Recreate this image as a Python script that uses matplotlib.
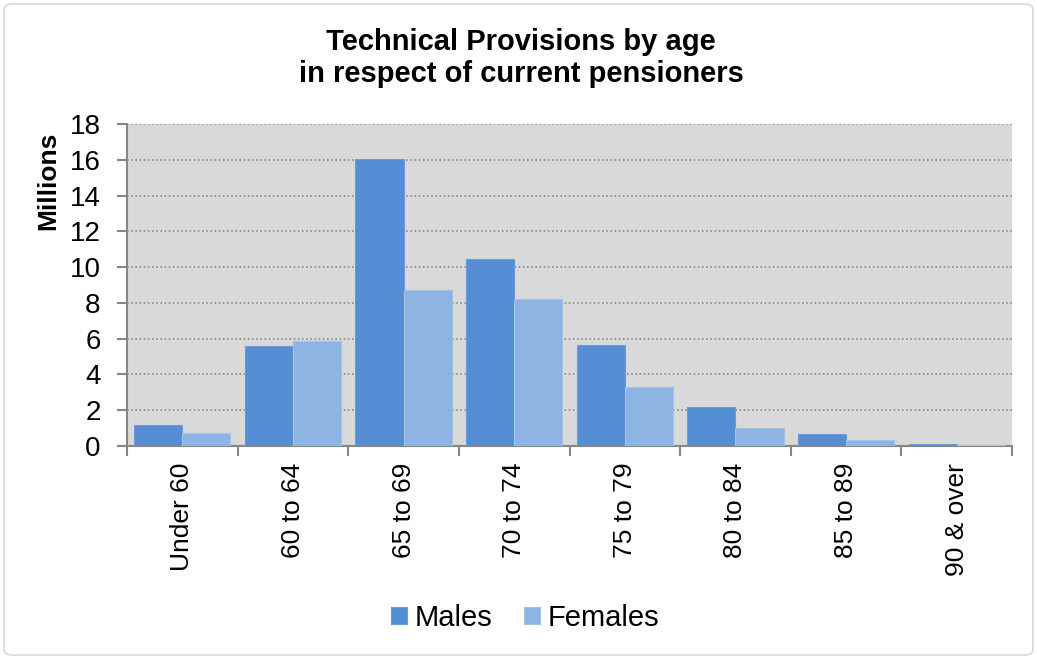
import matplotlib
matplotlib.use("Agg")
import matplotlib.pyplot as plt
import numpy as np
from matplotlib.patches import FancyBboxPatch

categories = ["Under 60", "60 to 64", "65 to 69", "70 to 74", "75 to 79",
              "80 to 84", "85 to 89", "90 & over"]
males = [1.17, 5.57, 16.03, 10.43, 5.64, 2.16, 0.67, 0.11]
females = [0.73, 5.88, 8.70, 8.23, 3.31, 1.02, 0.34, 0.05]
yticks = [0, 2, 4, 6, 8, 10, 12, 14, 16, 18]

plt.rcParams['font.family'] = ['Liberation Sans', 'DejaVu Sans']

fig = plt.figure(figsize=(10.37, 6.59), dpi=100)
fig.patch.set_facecolor('white')
border = FancyBboxPatch((0.004, 0.006), 0.992, 0.988,
                        boxstyle="round,pad=0,rounding_size=0.008",
                        transform=fig.transFigure, facecolor='white',
                        edgecolor='#D9D9D9', linewidth=1.2, zorder=-10)
fig.patches.append(border)

ax = fig.add_axes([127 / 1037, 1 - 446 / 659, (1012 - 127) / 1037, (446 - 124) / 659])
ax.set_facecolor('#D9D9D9')

x = np.arange(len(categories))
w = 0.435
ax.bar(x - w / 2, males, width=w, color='#558ED5', edgecolor='#6A9CDB',
       linewidth=0.8, label='Males', zorder=3)
ax.bar(x + w / 2, females, width=w, color='#8EB4E3', edgecolor='#A3C2E8',
       linewidth=0.8, label='Females', zorder=3)

ax.set_xlim(-0.5, len(categories) - 0.5)
ax.set_ylim(0, 18)
ax.set_yticks(yticks)
ax.set_yticklabels([str(v) for v in yticks], fontsize=20)
ax.yaxis.grid(True, linestyle=(0, (1, 1.5)), color='#8C8C8C', linewidth=1.2, zorder=1)
ax.set_axisbelow(True)

ax.set_xticks(x)
ax.set_xticklabels(categories, rotation=90, fontsize=19, va='top')
ax.tick_params(axis='x', which='major', length=0, pad=12)
ax.set_xticks(np.arange(-0.5, len(categories)), minor=True)
ax.tick_params(axis='x', which='minor', length=7, color='#868686', width=1.5)
ax.tick_params(axis='y', length=7, color='#868686', width=1.5, pad=12)

for s in ['top', 'right']:
    ax.spines[s].set_visible(False)
for s in ['left', 'bottom']:
    ax.spines[s].set_color('#868686')
    ax.spines[s].set_linewidth(1.5)

ax.set_ylabel('Millions', fontsize=19, fontweight='bold')
ax.yaxis.set_label_coords(-0.075, 0.823)

fig.text(521 / 1037, 1 - 58 / 659, 'Technical Provisions by age\nin respect of current pensioners',
         ha='center', va='center', fontsize=21, fontweight='bold', linespacing=1.15)

fig.legend(loc='center', bbox_to_anchor=(525 / 1037, 1 - 618 / 659), ncol=2,
           frameon=False, fontsize=21, handlelength=0.55, handleheight=0.55,
           handletextpad=0.25, columnspacing=1.1)

fig.savefig('out.png', dpi=100)
